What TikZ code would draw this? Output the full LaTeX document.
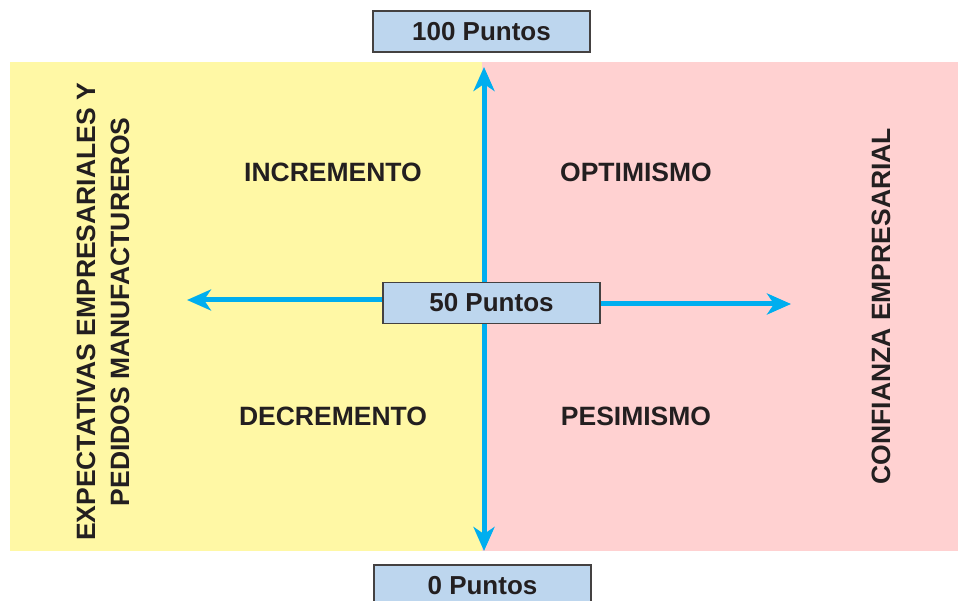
\documentclass[tikz,border=0pt]{standalone}
\usepackage{fontspec}
\setmainfont{Liberation Sans}
\usetikzlibrary{arrows.meta}
\definecolor{ylw}{HTML}{FFF8A5}
\definecolor{pnk}{HTML}{FFD1D1}
\definecolor{boxfill}{HTML}{BDD6EE}
\definecolor{arr}{HTML}{00AEEF}
\definecolor{txt}{HTML}{231F20}
\begin{document}
\begin{tikzpicture}[x=1pt,y=-1pt,
  lbl/.style={font=\fontsize{26.5}{34}\selectfont\bfseries, text=txt, inner sep=0pt, align=center},
  ptbox/.style={draw=txt!85, line width=1.3pt, fill=boxfill, minimum width=217pt, minimum height=41pt, inner sep=0pt, font=\fontsize{26}{30}\selectfont\bfseries, text=txt},
  axis/.style={draw=arr, line width=5pt, -{Stealth[length=24pt,width=21pt,inset=7pt]}}]
\useasboundingbox (0,0) rectangle (958,601);
\fill[white] (0,0) rectangle (958,601);
\fill[ylw] (10,62) rectangle (482,551);
\fill[pnk] (482,62) rectangle (958,551);
% vertical axis
\coordinate (vmid) at (484,300);
\coordinate (vtop) at (484,67);
\coordinate (vbot) at (484,551);
\draw[axis] (vmid) -- (vtop);
\draw[axis] (vmid) -- (vbot);
% boxes
\node[ptbox] (top) at (481.5,31.5) {100 Puntos};
\node[ptbox] (bot) at (482.5,585.5) {0 Puntos};
\node[ptbox] (mid) at (491.5,303) {50 Puntos};
% horizontal axis
\coordinate (hl) at (187,300);
\coordinate (hr) at (791,304);
\draw[axis] (mid.west |- hl) -- (hl);
\draw[axis] (mid.east |- hr) -- (hr);
% labels
\node[lbl] (inc) at (333,172) {INCREMENTO};
\node[lbl] (opt) at (636,172) {OPTIMISMO};
\node[lbl] (dec) at (333,416) {DECREMENTO};
\node[lbl] (pes) at (636,416) {PESIMISMO};
\node[lbl, rotate=90] (conf) at (881,306) {CONFIANZA EMPRESARIAL};
\node[lbl, rotate=90] (exp) at (103,312) {EXPECTATIVAS EMPRESARIALES Y\\PEDIDOS MANUFACTUREROS};
\end{tikzpicture}
\end{document}
